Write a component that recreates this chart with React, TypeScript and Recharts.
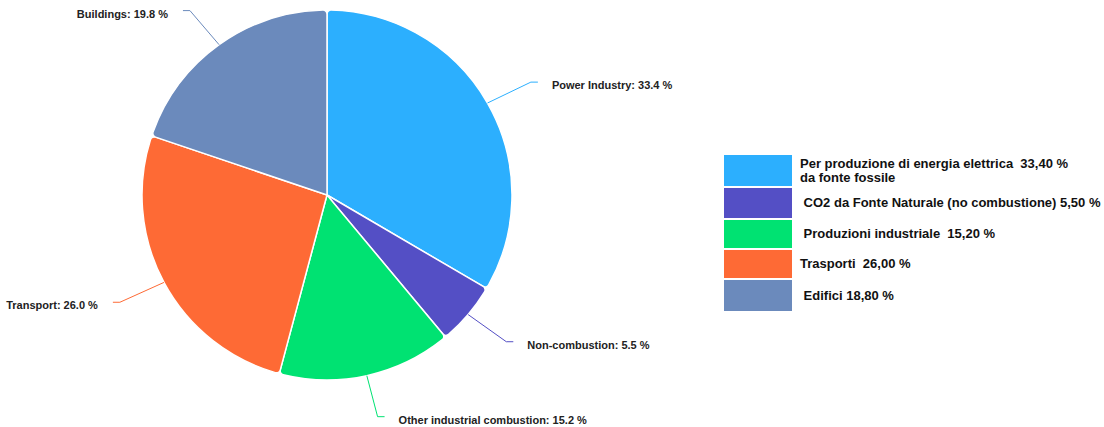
import React from "react"
import { PieChart, Pie, Cell, Legend } from "recharts"

const sectors = ["Power Industry", "Non-combustion", "Other industrial combustion", "Transport", "Buildings"]
const shares = [33.4, 5.5, 15.2, 26.0, 19.8]
const colors = ["#2caffe", "#544fc5", "#00e272", "#fe6a35", "#6b8abc"]

const legendLabels = [
  ["Per produzione di energia elettrica  33,40 %", "da fonte fossile"],
  [" CO2 da Fonte Naturale (no combustione) 5,50 %"],
  [" Produzioni industriale  15,20 %"],
  ["Trasporti  26,00 %"],
  [" Edifici 18,80 %"],
]

const data = sectors.map((name, i) => ({ name, value: shares[i] }))

const RAD = Math.PI / 180
const rowHeights = [31, 30, 28, 28, 31]

const renderLabel = (props: any) => {
  const { cx, cy, midAngle, outerRadius, index } = props
  const cos = Math.cos(-midAngle * RAD)
  const sin = Math.sin(-midAngle * RAD)
  const sx = cx + outerRadius * cos
  const sy = cy + outerRadius * sin
  const ex = cx + (outerRadius + 50) * cos
  const ey = cy + (outerRadius + 42) * sin
  const right = cos >= 0
  const hx = ex + (right ? 7 : -7)
  const tx = ex + (right ? 21 : -22)
  return (
    <g>
      <path d={`M${sx},${sy}L${ex},${ey}L${hx},${ey}`} stroke={colors[index]} fill="none" strokeWidth={1} />
      <text
        x={tx}
        y={ey + 3}
        textAnchor={right ? "start" : "end"}
        dominantBaseline="central"
        fontSize={11}
        fontWeight="bold"
        fill="#222"
        fontFamily="'Liberation Sans', Arial, sans-serif"
      >
        {`${sectors[index]}: ${shares[index].toFixed(1)} %`}
      </text>
    </g>
  )
}

const LegendBox = () => (
  <div style={{ fontFamily: "'Liberation Sans', Arial, sans-serif" }}>
    {legendLabels.map((lines, i) => (
      <div key={i} style={{ display: "flex", alignItems: "center", height: rowHeights[i], marginBottom: 2 }}>
        <div style={{ width: 68, height: "100%", background: colors[i], flexShrink: 0 }} />
        <div style={{ marginLeft: 8, fontSize: 13, fontWeight: "bold", color: "#111", lineHeight: "14px", whiteSpace: "pre" }}>
          {lines.map((l, j) => (
            <div key={j}>{l}</div>
          ))}
        </div>
      </div>
    ))}
  </div>
)

export default function App() {
  return (
    <div style={{ position: "absolute", left: 0, top: 0, width: 1104, height: 427, background: "#fff" }}>
      <PieChart width={1104} height={427} margin={{ top: 0, right: 0, bottom: 0, left: 0 }}>
        <Pie
          data={data}
          dataKey="value"
          nameKey="name"
          cx={327}
          cy={195}
          outerRadius={185}
          startAngle={90}
          endAngle={-270}
          stroke="#fff"
          strokeWidth={1.5}
          cornerRadius={4}
          label={renderLabel}
          labelLine={false}
          isAnimationActive={false}
        >
          {data.map((entry, index) => (
            <Cell key={`cell-${index}`} fill={colors[index]} />
          ))}
        </Pie>
        <Legend
          content={() => <LegendBox />}
          wrapperStyle={{ position: "absolute", left: 724, top: 155, width: 380 }}
        />
      </PieChart>
    </div>
  )
}
